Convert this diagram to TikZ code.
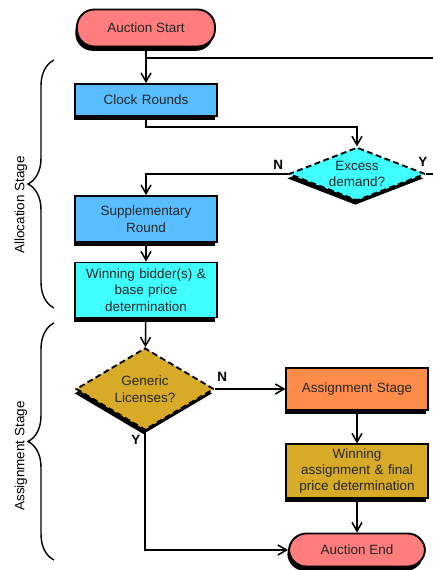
\documentclass[tikz,border=0pt]{standalone}
\usepackage{fontspec}
\setmainfont{Liberation Sans}
\usetikzlibrary{shapes.geometric,shadows,decorations.pathreplacing,arrows.meta}
\tikzset{>={Straight Barb[length=2.6mm,width=3mm]}}

\definecolor{termred}{RGB}{255,125,125}
\definecolor{clockblue}{RGB}{88,190,255}
\definecolor{lightcyan}{RGB}{64,255,255}
\definecolor{goldbox}{RGB}{215,170,40}
\definecolor{assignorange}{RGB}{255,140,72}

\tikzset{
  boxshadow/.style={drop shadow={shadow xshift=-0.05cm,shadow yshift=-0.13cm,fill=black,opacity=1}},
  basebox/.style={draw, line width=1.6pt, text=black!85, align=center,
    font=\fontsize{11.5}{14}\selectfont, boxshadow},
  terminal/.style={basebox, rectangle, rounded corners=0.52cm},
  procbox/.style={basebox, rectangle, minimum width=4.2cm, text width=4cm},
  decision/.style={basebox, diamond, dashed, dash pattern=on 5pt off 3pt, inner sep=0pt},
  flowline/.style={line width=1.3pt},
  yesno/.style={font=\fontsize{11.5}{14}\selectfont\bfseries},
  stagebrace/.style={line width=1.2pt, decorate, decoration={brace, amplitude=0.78cm}}
}

\begin{document}
\begin{tikzpicture}[x=0.03cm,y=-0.03cm]
                \useasboundingbox (0,0) rectangle (433,570);

                % Draw the start and end of the auction
                \node[terminal, fill=termred, minimum width=4.14cm, minimum height=1.11cm] (start) at (146,28) {Auction Start};
                \node[terminal, fill=termred, minimum width=4.08cm, minimum height=0.99cm] (endnode) at (357,550) {Auction End};

                % Draw the allocation stage
                \node[procbox, fill=clockblue, minimum height=0.96cm] (clock) at (146,100) {Clock Rounds};
                \node[decision, fill=lightcyan, text width=1.8cm, aspect=2.5, minimum width=4.1cm, minimum height=1.6cm] (excess) at (357,174) {Excess\\demand?};
                \node[procbox, fill=clockblue, minimum height=1.38cm] (supp) at (146,219) {Supplementary\\Round};
                \node[procbox, fill=lightcyan, minimum height=1.65cm] (winbid) at (146,290) {Winning bidder(s) \&\\base price\\determination};

                % Draw the assignment stage
                \node[decision, fill=goldbox, text width=2cm, aspect=1.6, minimum width=4.14cm, minimum height=2.46cm] (generic) at (145,389) {Generic\\Licenses?};
                \node[procbox, fill=assignorange, minimum height=1.26cm] (assign) at (357,389) {Assignment Stage};
                \node[procbox, fill=goldbox, minimum height=1.56cm] (winassign) at (357,471) {Winning\\assignment \& final\\price determination};
                \coordinate (loopjoin) at (146,58);

                % Draw the arrows and labels
                \draw[flowline,->] (start) -- (clock);
                \draw[flowline,->] (clock.south) -- ++(0,10) -| (excess.north);
                \draw[flowline,->] (excess.west) node[yesno, above left] {N} -| (supp.north);
                \draw[flowline] (excess.east) node[yesno, anchor=south east, xshift=5pt, yshift=2pt] {Y} -- ++(30,0) |- (loopjoin);
                \draw[flowline,->] (supp) -- (winbid);
                \draw[flowline,->] (winbid) -- (generic);
                \draw[flowline,->] (generic.east) node[yesno, anchor=south west, xshift=-2pt, yshift=2pt] {N} -- (assign.west);
                \draw[flowline,->] (generic.south) node[yesno, below left] {Y} |- (endnode.west);
                \draw[flowline,->] (assign) -- (winassign);
                \draw[flowline,->] (winassign) -- (endnode);

                % Add braces for the two stages
                \draw[stagebrace] (54,308) -- (54,60);
                \draw[stagebrace] (54,560) -- (54,323);
                \node[rotate=90, font=\fontsize{11.5}{14}\selectfont] (alloclabel) at (21,205) {Allocation Stage};
                \node[rotate=90, font=\fontsize{11.5}{14}\selectfont] (assignlabel) at (21,456) {Assignment Stage};
             \end{tikzpicture}
\end{document}
